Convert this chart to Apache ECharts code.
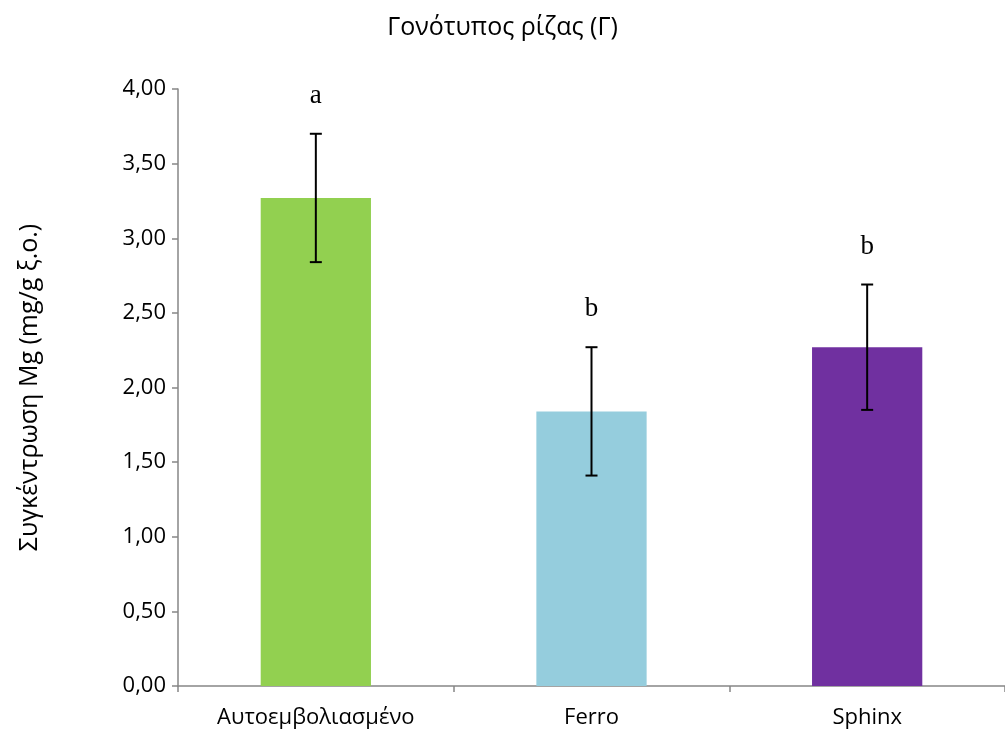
<!DOCTYPE html>
<html><head><meta charset="utf-8">
<script src="https://cdn.jsdelivr.net/npm/echarts@6/dist/echarts.min.js"></script>
<style>html,body{margin:0;padding:0;background:#fff}#c{width:1005px;height:734px}</style>
</head><body><div id="c"></div>
<script>
const categories = ['Αυτοεμβολιασμένο', 'Ferro', 'Sphinx'];
const values = [3.27, 1.84, 2.27];
const errors = [0.43, 0.43, 0.42];
const letters = ['a', 'b', 'b'];
const colors = ['#92D050', '#95CDDD', '#7030A0'];
const yTicks = { min: 0, max: 4, interval: 0.5 };

const chart = echarts.init(document.getElementById('c'), null, { renderer: 'canvas' });
const errData = values.map((v, i) => [i, v - errors[i], v + errors[i]]);
chart.setOption({
  animation: false,
  title: {
    text: 'Γονότυπος ρίζας (Γ)', left: 'center', top: 10,
    textStyle: { fontFamily: 'Open Sans', fontSize: 25, fontWeight: 'normal', color: '#000' }
  },
  grid: { left: 178, right: 0, top: 89, bottom: 48, containLabel: false },
  xAxis: {
    type: 'category', data: categories,
    axisLine: { lineStyle: { color: '#868686', width: 1.5 } },
    axisTick: { show: true, alignWithLabel: false, length: 6, lineStyle: { color: '#868686', width: 1.5 } },
    axisLabel: { color: '#000', fontFamily: 'Open Sans', fontSize: 22, margin: 21 }
  },
  yAxis: {
    type: 'value', min: yTicks.min, max: yTicks.max, interval: yTicks.interval,
    name: 'Συγκέντρωση Mg (mg/g ξ.ο.)', nameLocation: 'middle', nameGap: 136, nameRotate: 90,
    nameTextStyle: { color: '#000', fontFamily: 'Open Sans', fontSize: 25 },
    splitLine: { show: false },
    axisLine: { show: true, lineStyle: { color: '#868686', width: 1.5 } },
    axisTick: { show: true, length: 6, lineStyle: { color: '#868686', width: 1.5 } },
    axisLabel: { color: '#000', fontFamily: 'Open Sans', fontSize: 22, margin: 12,
      formatter: v => v.toFixed(2).replace('.', ',') }
  },
  series: [
    {
      type: 'bar', barWidth: '40%',
      data: values.map((v, i) => ({ value: v, itemStyle: { color: colors[i] } }))
    },
    {
      type: 'custom', z: 10,
      data: errData,
      renderItem: function (params, api) {
        const i = api.value(0);
        const lo = api.coord([i, api.value(1)]);
        const hi = api.coord([i, api.value(2)]);
        const w = 6;
        const style = { stroke: '#000', lineWidth: 2 };
        return {
          type: 'group',
          children: [
            { type: 'line', shape: { x1: hi[0], y1: hi[1], x2: lo[0], y2: lo[1] }, style },
            { type: 'line', shape: { x1: hi[0] - w, y1: hi[1], x2: hi[0] + w, y2: hi[1] }, style },
            { type: 'line', shape: { x1: lo[0] - w, y1: lo[1], x2: lo[0] + w, y2: lo[1] }, style },
            { type: 'text', x: hi[0], y: hi[1] - 38,
              style: { text: letters[i], fill: '#000', font: '27px "Liberation Serif", "DejaVu Serif", serif',
                align: 'center', verticalAlign: 'middle' } }
          ]
        };
      }
    }
  ]
});
</script></body></html>
